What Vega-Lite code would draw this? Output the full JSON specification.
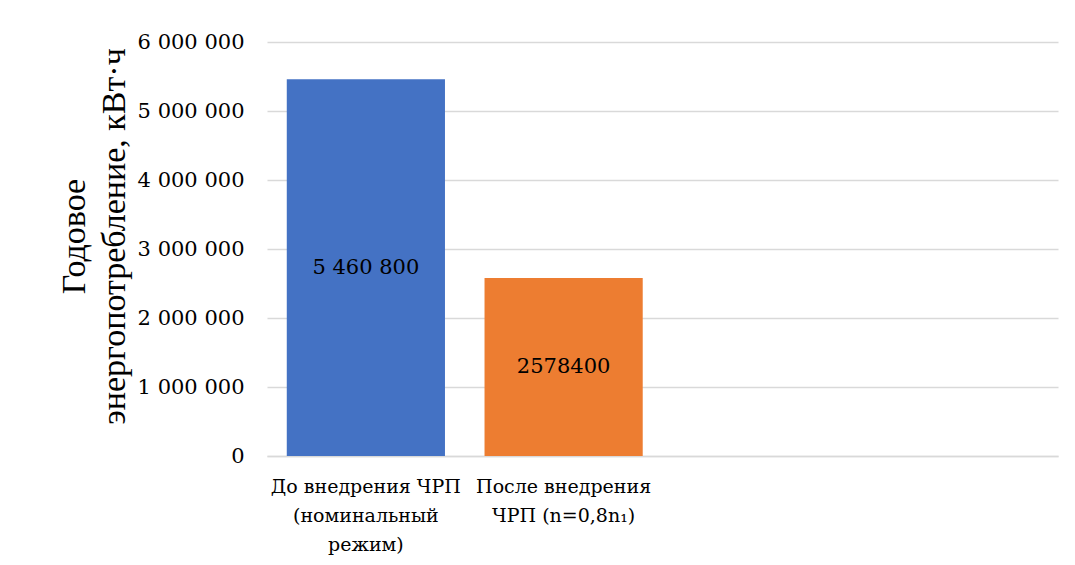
{
  "$schema": "https://vega.github.io/schema/vega-lite/v6.json",
  "autosize": {"type": "none"},
  "width": 791,
  "height": 414,
  "padding": {"left": 267, "top": 42, "right": 17, "bottom": 109},
  "background": "white",
  "config": {
    "view": {"stroke": null},
    "locale": {"number": {"decimal": ",", "thousands": " ", "grouping": [3], "currency": ["", ""]}}
  },
  "data": {
    "values": [
      {"cat": "До внедрения ЧРП|(номинальный|режим)", "value": 5460800, "label": "5 460 800"},
      {"cat": "После внедрения|ЧРП (n=0,8n₁)", "value": 2578400, "label": "2578400"}
    ]
  },
  "encoding": {
    "x": {
      "field": "cat",
      "type": "nominal",
      "sort": null,
      "scale": {
        "domain": ["До внедрения ЧРП|(номинальный|режим)", "После внедрения|ЧРП (n=0,8n₁)", " ", "  "],
        "paddingInner": 0.2,
        "paddingOuter": 0.1
      },
      "axis": {
        "title": null,
        "labelAngle": 0,
        "labelExpr": "split(datum.label, '|')",
        "labelFont": "DejaVu Serif",
        "labelFontSize": 19,
        "labelLineHeight": 29,
        "labelPadding": 21,
        "labelLimit": 400,
        "labelColor": "#000000",
        "ticks": false,
        "domainColor": "#D9D9D9",
        "domainWidth": 1.5
      }
    }
  },
  "layer": [
    {
      "mark": {"type": "bar"},
      "encoding": {
        "y": {
          "field": "value",
          "type": "quantitative",
          "scale": {"domain": [0, 6000000]},
          "axis": {
            "values": [0, 1000000, 2000000, 3000000, 4000000, 5000000, 6000000],
            "format": ",d",
            "labelOverlap": false,
            "labelFont": "DejaVu Serif",
            "labelFontSize": 21,
            "labelColor": "#000000",
            "labelPadding": 23,
            "ticks": false,
            "domain": false,
            "gridColor": "#D9D9D9",
            "gridWidth": 1.5,
            "title": ["Годовое", "энергопотребление, кВт·ч"],
            "titleFont": "Liberation Serif",
            "titleFontSize": 34,
            "titleFontWeight": "normal",
            "titleColor": "#000000",
            "titleAngle": -90,
            "titleAlign": "center",
            "titleBaseline": "top",
            "titleLineHeight": 40,
            "titleX": -210,
            "titleY": 194
          }
        },
        "color": {
          "field": "cat",
          "type": "nominal",
          "scale": {
            "domain": ["До внедрения ЧРП|(номинальный|режим)", "После внедрения|ЧРП (n=0,8n₁)"],
            "range": ["#4472C4", "#ED7D31"]
          },
          "legend": null
        }
      }
    },
    {
      "transform": [{"calculate": "datum.value / 2", "as": "mid"}],
      "mark": {"type": "text", "font": "DejaVu Serif", "fontSize": 21, "color": "#000000", "baseline": "middle", "align": "center"},
      "encoding": {
        "y": {"field": "mid", "type": "quantitative"},
        "text": {"field": "label"}
      }
    }
  ]
}
